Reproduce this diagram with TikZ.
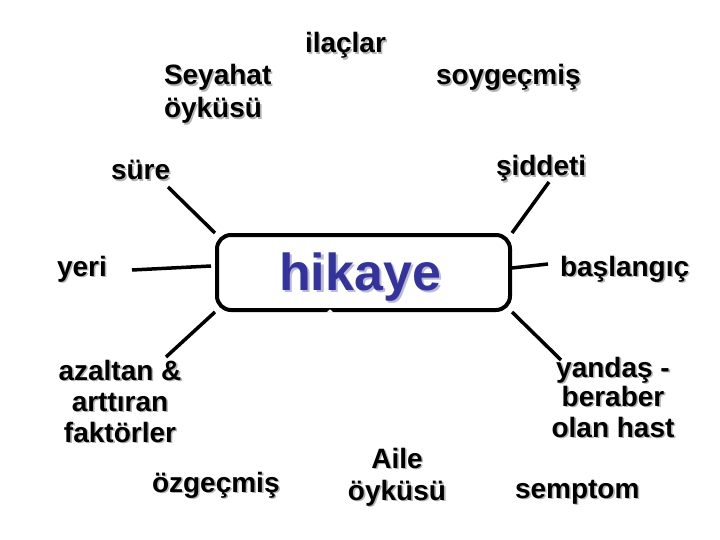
\documentclass[tikz,border=0pt]{standalone}
\usepackage{fontspec}
\setmainfont{Liberation Sans}
\usetikzlibrary{calc}
\definecolor{hikblue}{HTML}{333399}
\definecolor{hikshadow}{HTML}{B8BAD6}
\definecolor{txtshadow}{HTML}{B4B4B4}
\newcommand\lblfont{\bfseries\fontsize{28}{33}\selectfont}
\newcommand\hikfont{\bfseries\fontsize{52}{60}\selectfont}
\newcommand\shtext[4]{%
  \node[lab, text=txtshadow, anchor=#2, xshift=1.6pt, yshift=-1.6pt] (#1s) at (#3) {#4};
  \node[lab, anchor=#2] (#1) at (#3) {#4};}
\begin{document}
\begin{tikzpicture}[x=1pt,y=-1pt,
  lab/.style={font=\lblfont, inner sep=0pt, outer sep=0pt},
  conn/.style={line width=3.5pt, black},
  hikbox/.style={draw, line width=4pt, rounded corners=14pt, minimum width=293pt, minimum height=75pt, inner sep=0pt}]
\useasboundingbox (0,0) rectangle (720,540);
\fill[white] (0,0) rectangle (720,540);
% central box
\node[hikbox] (box) at (363.5,272.5) {};
\node[font=\hikfont, inner sep=0pt, text=hikshadow, anchor=base, xshift=2.5pt, yshift=-2.5pt] (hiks) at (360,290) {hikaye};
\node[font=\hikfont, inner sep=0pt, text=hikblue, anchor=base] (hik) at (360,290) {hikaye};
\fill[white] (326.5,312.5) -- (330,309.3) -- (333.5,312.5) -- cycle;
% labels
\shtext{ila}{base west}{305,53}{ilaçlar}
\shtext{sey}{base west}{164,85}{Seyahat}
\shtext{seyb}{base west}{164,118}{öyküsü}
\shtext{soy}{base west}{436,85}{soygeçmiş}
\shtext{sure}{base west}{111,180}{süre}
\shtext{sid}{base west}{496,176}{şiddeti}
\shtext{yeri}{base west}{57,276}{yeri}
\shtext{bas}{base west}{560,276}{başlangıç}
\shtext{aza}{base}{120,380}{azaltan \&}
\shtext{azb}{base}{120,411}{arttıran}
\shtext{azc}{base}{120,442}{faktörler}
\shtext{yana}{base}{613,377}{yandaş -}
\shtext{yanb}{base}{613,406}{beraber}
\shtext{yanc}{base}{613,437}{olan hast}
\shtext{ozg}{base west}{152,492}{özgeçmiş}
\shtext{aila}{base}{397,468}{Aile}
\shtext{ailb}{base}{397,500}{öyküsü}
\shtext{sem}{base west}{515,498}{semptom}
% connector ends
\coordinate (cSure) at (168,187);
\coordinate (cSid) at (549,182);
\coordinate (cYeriA) at (132,270);
\coordinate (cYeriB) at (211,266);
\coordinate (cBasA) at (512,268);
\coordinate (cBasB) at (548,264);
\coordinate (cAza) at (166,357);
\coordinate (cYan) at (561,360);
% connectors
\draw[conn] (box.north west) -- (cSure);
\draw[conn] (box.north east) -- (cSid);
\draw[conn] (cYeriA) -- (cYeriB);
\draw[conn] (cBasA) -- (cBasB);
\draw[conn] (box.south west) -- (cAza);
\draw[conn] (box.south east) -- (cYan);
\end{tikzpicture}
\end{document}
